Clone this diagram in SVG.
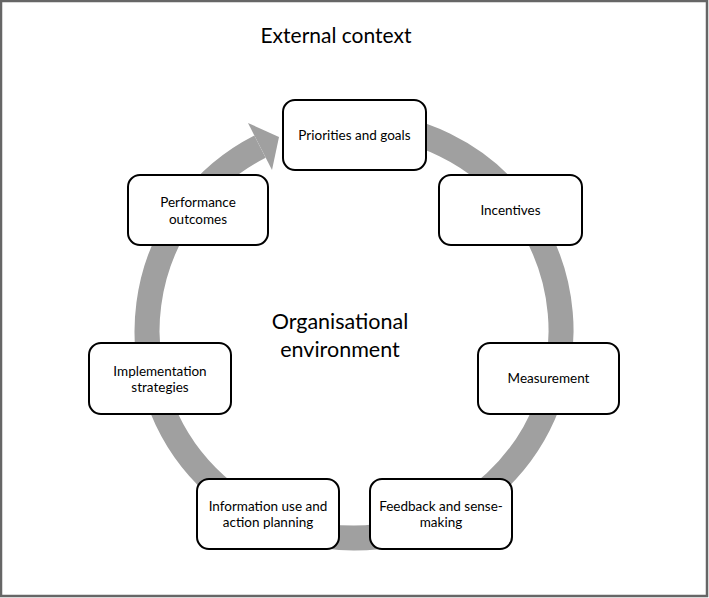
<svg xmlns="http://www.w3.org/2000/svg" width="709" height="598" viewBox="0 0 709 598">
<style>
.box{fill:#fff;stroke:#000;stroke-width:2}
.t{font-family:Lato,"Open Sans","Liberation Sans",sans-serif;font-size:13.5px;fill:#000;text-anchor:middle}
.big{font-family:Lato,"Open Sans","Liberation Sans",sans-serif;font-size:21px;fill:#000;text-anchor:middle}
.ring{fill:none;stroke:#a0a0a0;stroke-width:25}
</style>
<rect x="1" y="1" width="706" height="595" fill="#fff" stroke="#666" stroke-width="2.5"/>
<text class="big" x="336" y="43">External context</text>
<g id="connectors">
<path class="ring" d="M354,124 A207,207 0 1 1 260,146.6"/>
<polygon points="248,123 279,137 272,170" fill="#a0a0a0"/>
</g>
<text class="big" x="340" y="329" style="font-size:21.5px">Organisational</text>
<text class="big" x="340" y="357" style="font-size:21.5px">environment</text>
<g id="priorities">
<rect class="box" x="283" y="100" width="143" height="70" rx="12"/>
<text class="t" x="354.5" y="139.5">Priorities and goals</text>
</g>
<g id="incentives">
<rect class="box" x="439" y="175" width="143" height="70" rx="12"/>
<text class="t" x="510.5" y="214.5">Incentives</text>
</g>
<g id="measurement">
<rect class="box" x="478" y="343" width="141" height="71" rx="12"/>
<text class="t" x="548.5" y="383">Measurement</text>
</g>
<g id="feedback">
<rect class="box" x="370" y="479" width="142" height="70" rx="12"/>
<text class="t" x="441" y="511">Feedback and sense-</text>
<text class="t" x="441" y="527">making</text>
</g>
<g id="information">
<rect class="box" x="197" y="479" width="142" height="70" rx="12"/>
<text class="t" x="268" y="511">Information use and</text>
<text class="t" x="268" y="527">action planning</text>
</g>
<g id="implementation">
<rect class="box" x="89" y="343" width="142" height="71" rx="12"/>
<text class="t" x="160" y="375.5">Implementation</text>
<text class="t" x="160" y="392">strategies</text>
</g>
<g id="performance">
<rect class="box" x="128" y="175" width="140" height="70" rx="12"/>
<text class="t" x="198" y="207">Performance</text>
<text class="t" x="198" y="224">outcomes</text>
</g>
</svg>
